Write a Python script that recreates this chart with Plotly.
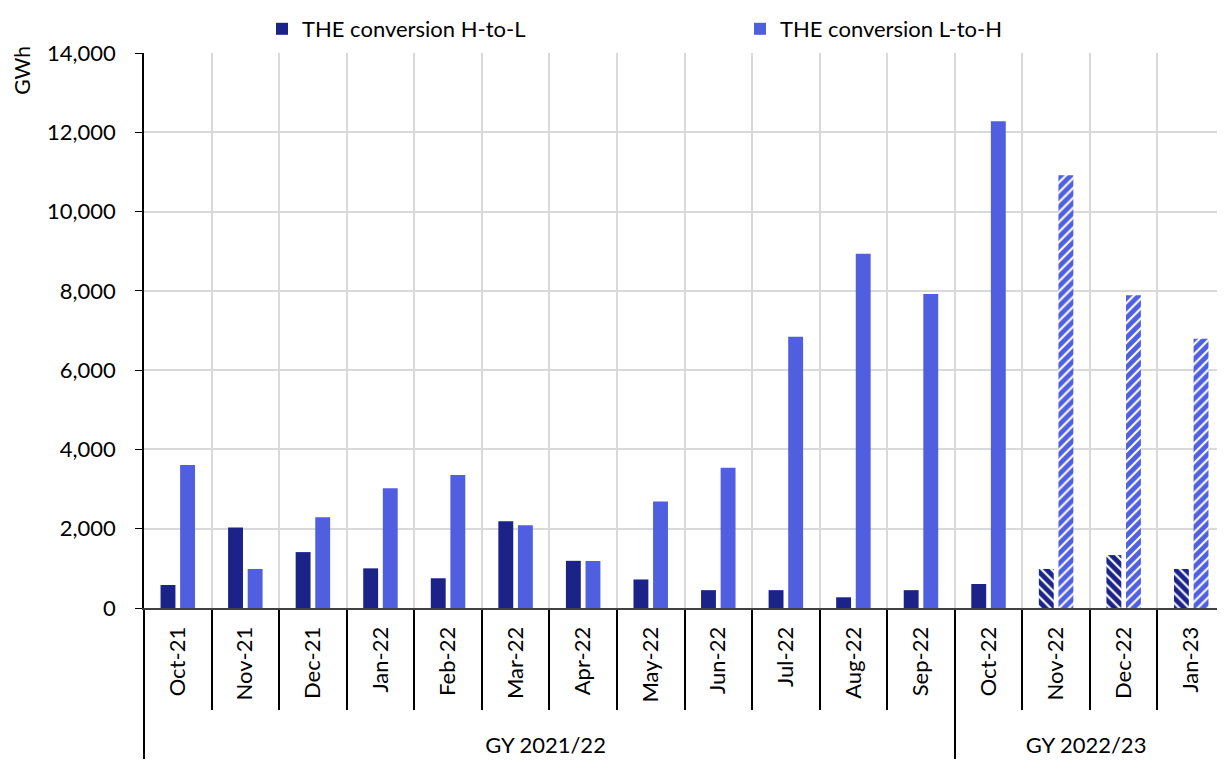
import plotly.graph_objects as go

months = ["Oct-21", "Nov-21", "Dec-21", "Jan-22", "Feb-22", "Mar-22", "Apr-22", "May-22",
          "Jun-22", "Jul-22", "Aug-22", "Sep-22", "Oct-22", "Nov-22", "Dec-22", "Jan-23"]
gas_years = ["GY 2021/22"] * 12 + ["GY 2022/23"] * 4
h_to_l = [580, 2030, 1410, 1000, 750, 2190, 1190, 720, 450, 450, 270, 450, 605, 985, 1335, 985]
l_to_h = [3610, 985, 2290, 3020, 3355, 2090, 1185, 2685, 3540, 6845, 8935, 7920, 12280, 10915, 7890, 6790]
# last three months are estimates -> hatched
estimated = [False] * 13 + [True] * 3

dark = "#1b2389"
light = "#4f5fe0"
font = "Lato"

# page body has an 8px margin, so the figure is 8px smaller than the window
W, H = 1217, 752

# leading no-break spaces sit below the rotated month text and push the
# gas-year row further down, like in the original chart
month_labels = ["\u00a0" * 3 + m for m in months]
x = [gas_years, month_labels]

fig = go.Figure()
fig.add_trace(go.Bar(
    x=x, y=h_to_l, name="THE conversion H-to-L", legend="legend",
    marker=dict(color=dark, line_width=0,
                pattern=dict(shape=["\\" if e else "" for e in estimated], fgopacity=1,
                             fgcolor=dark, bgcolor="white", size=7, solidity=0.7)),
))
fig.add_trace(go.Bar(
    x=x, y=l_to_h, name="THE conversion L-to-H", legend="legend2",
    marker=dict(color=light, line_width=0,
                pattern=dict(shape=["/" if e else "" for e in estimated], fgopacity=1,
                             fgcolor=light, bgcolor="white", size=7, solidity=0.7)),
))

leg = dict(xref="container", yref="container", y=1, yanchor="top",
           xanchor="left", font=dict(size=22), bgcolor="rgba(0,0,0,0)")
fig.update_layout(
    width=W, height=H,
    margin=dict(l=136, r=0, t=45, b=152, autoexpand=False),
    plot_bgcolor="white", paper_bgcolor="white",
    font=dict(family=font, size=22, color="black"),
    barmode="group", bargap=0.42, bargroupgap=0.24,
    showlegend=True,
    legend=dict(leg, x=254 / W),
    legend2=dict(leg, x=732 / W),
)
fig.update_xaxes(
    type="multicategory", tickangle=-90, tickson="boundaries", automargin=False,
    ticks="outside", ticklen=100, tickcolor="black", tickwidth=1.5,
    ticklabelstandoff=8,
    showgrid=True, gridcolor="#d9d9d9", gridwidth=2,
    showline=True, linecolor="#404040", linewidth=2,
    showdividers=True, dividercolor="black", dividerwidth=1.5,
)
fig.update_yaxes(
    range=[0, 14000], dtick=2000, tickformat=",", automargin=False,
    ticks="outside", ticklen=7, tickcolor="black", ticklabelstandoff=15,
    showgrid=True, gridcolor="#d9d9d9", gridwidth=2,
    showline=True, linecolor="black", linewidth=1.5,
    zeroline=False,
)
fig.add_annotation(text="GWh", xref="paper", yref="paper", x=-122 / 1081, y=0.97,
                   xanchor="center", yanchor="middle",
                   textangle=-90, showarrow=False, font=dict(size=21))

fig.write_html("out.html")
